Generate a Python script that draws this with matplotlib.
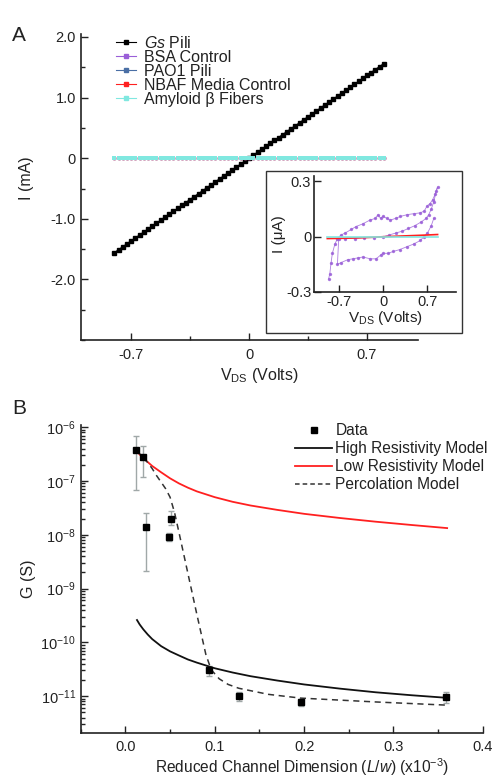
import matplotlib
matplotlib.use('Agg')
import matplotlib.pyplot as plt
from matplotlib.patches import Rectangle
from matplotlib.lines import Line2D
from matplotlib.ticker import MultipleLocator, LogLocator, NullFormatter, FixedLocator

plt.rcParams['font.family'] = ['Liberation Sans', 'DejaVu Sans']
plt.rcParams['mathtext.fontset'] = 'custom'
plt.rcParams['mathtext.rm'] = 'Liberation Sans'
plt.rcParams['mathtext.it'] = 'Liberation Sans:italic'
plt.rcParams['text.color'] = '#222222'
plt.rcParams['axes.labelcolor'] = '#222222'
plt.rcParams['xtick.color'] = '#222222'
plt.rcParams['ytick.color'] = '#222222'

# ---- panel A: I-V sweeps (mA) ----
v_sweep = [-0.800, -0.775, -0.750, -0.725, -0.700, -0.675, -0.650, -0.625, -0.600, -0.575,
           -0.550, -0.525, -0.500, -0.475, -0.450, -0.425, -0.400, -0.375, -0.350, -0.325,
           -0.300, -0.275, -0.250, -0.225, -0.200, -0.175, -0.150, -0.125, -0.100, -0.075,
           -0.050, -0.025, 0.000, 0.025, 0.050, 0.075, 0.100, 0.125, 0.150, 0.175,
           0.200, 0.225, 0.250, 0.275, 0.300, 0.325, 0.350, 0.375, 0.400, 0.425,
           0.450, 0.475, 0.500, 0.525, 0.550, 0.575, 0.600, 0.625, 0.650, 0.675,
           0.700, 0.725, 0.750, 0.775, 0.800]
i_gs = [-1.560, -1.511, -1.463, -1.414, -1.365, -1.316, -1.268, -1.219, -1.170, -1.121,
        -1.073, -1.024, -0.975, -0.926, -0.878, -0.829, -0.780, -0.731, -0.683, -0.634,
        -0.585, -0.536, -0.488, -0.439, -0.390, -0.341, -0.293, -0.244, -0.195, -0.146,
        -0.098, -0.049, 0.000, 0.049, 0.098, 0.146, 0.195, 0.244, 0.293, 0.341,
        0.390, 0.439, 0.488, 0.536, 0.585, 0.634, 0.683, 0.731, 0.780, 0.829,
        0.878, 0.926, 0.975, 1.024, 1.073, 1.121, 1.170, 1.219, 1.268, 1.316,
        1.365, 1.414, 1.463, 1.511, 1.560]
i_zero = [0.0] * len(v_sweep)

# inset (uA): BSA control hysteresis loop
v_bsa = [-0.86, -0.84, -0.82, -0.80, -0.76, -0.72, -0.66, -0.60, -0.50, -0.43, -0.32,
         -0.21, -0.12, -0.08, -0.04, 0.00, 0.06, 0.11, 0.20, 0.27, 0.38, 0.48, 0.59,
         0.65, 0.69, 0.74, 0.78, 0.82, 0.86,
         0.84, 0.80, 0.76, 0.72, 0.68, 0.60, 0.50, 0.40, 0.30, 0.20, 0.10, 0.00,
         -0.15, -0.30, -0.45, -0.60, -0.70,
         -0.72, -0.66, -0.56, -0.48, -0.40, -0.32, -0.20, -0.11, -0.04, 0.00, 0.08,
         0.16, 0.26, 0.37, 0.48, 0.59, 0.64, 0.70, 0.76, 0.80]
i_bsa = [-0.23, -0.20, -0.14, -0.09, -0.04, -0.01, 0.01, 0.02, 0.04, 0.055, 0.07,
         0.09, 0.10, 0.12, 0.10, 0.11, 0.10, 0.09, 0.10, 0.11, 0.12, 0.125, 0.13,
         0.14, 0.165, 0.18, 0.20, 0.23, 0.27,
         0.25, 0.19, 0.15, 0.12, 0.10, 0.08, 0.06, 0.045, 0.03, 0.02, 0.01, 0.00,
         -0.005, -0.005, -0.01, -0.01, -0.01,
         -0.15, -0.14, -0.125, -0.12, -0.115, -0.11, -0.12, -0.12, -0.10, -0.09, -0.09,
         -0.08, -0.07, -0.055, -0.04, -0.02, 0.00, 0.02, 0.06, 0.10]
v_flat = [-0.88, -0.60, -0.30, 0.00, 0.30, 0.60, 0.86]
i_nbaf = [-0.01, -0.008, -0.005, 0.0, 0.004, 0.008, 0.012]
i_amy = [0.0, 0.0, 0.0, 0.0, 0.0, 0.0, 0.0]

# ---- panel B: conductance vs reduced channel dimension ----
lw_data = [0.0115, 0.0197, 0.0227, 0.0485, 0.0507, 0.094, 0.127, 0.196, 0.359]
g_data = [3.7e-7, 2.8e-7, 1.37e-8, 9.0e-9, 2.0e-8, 3.0e-11, 1.0e-11, 7.7e-12, 9.6e-12]
g_low_err = [6.8e-8, 1.2e-7, 2.15e-9, 7.5e-9, 1.5e-8, 2.4e-11, 8.2e-12, 6.6e-12, 7.5e-12]
g_high_err = [7.0e-7, 4.4e-7, 2.5e-8, 1.1e-8, 2.8e-8, 3.6e-11, 1.2e-11, 8.9e-12, 1.2e-11]

lw_high = [0.013, 0.016, 0.02, 0.025, 0.03, 0.04, 0.05, 0.06, 0.07, 0.08, 0.10,
           0.12, 0.14, 0.17, 0.20, 0.24, 0.28, 0.32, 0.36]
g_high_res = [2.6e-10, 2.15e-10, 1.75e-10, 1.4e-10, 1.15e-10, 8.5e-11, 6.8e-11, 5.7e-11,
              4.8e-11, 4.2e-11, 3.3e-11, 2.75e-11, 2.35e-11, 1.95e-11, 1.65e-11,
              1.38e-11, 1.18e-11, 1.04e-11, 9.3e-12]
lw_low = [0.012, 0.016, 0.02, 0.025, 0.03, 0.04, 0.05, 0.06, 0.07, 0.08, 0.10,
          0.12, 0.14, 0.17, 0.20, 0.24, 0.28, 0.32, 0.36]
g_low_res = [3.7e-7, 3.1e-7, 2.65e-7, 2.25e-7, 1.9e-7, 1.45e-7, 1.12e-7, 9.0e-8,
             7.5e-8, 6.4e-8, 5.0e-8, 4.1e-8, 3.5e-8, 2.9e-8, 2.45e-8, 2.05e-8,
             1.75e-8, 1.52e-8, 1.33e-8]
lw_perc = [0.012, 0.016, 0.02, 0.025, 0.03, 0.035, 0.04, 0.045, 0.05, 0.055, 0.06,
           0.07, 0.08, 0.09, 0.096, 0.105, 0.115, 0.127, 0.16, 0.196, 0.28, 0.36]
g_perc = [3.7e-7, 3.2e-7, 2.7e-7, 2.2e-7, 1.7e-7, 1.25e-7, 9.5e-8, 7.2e-8, 5.0e-8,
          2.6e-8, 1.1e-8, 1.9e-9, 3.3e-10, 6.0e-11, 3.1e-11, 2.1e-11, 1.65e-11,
          1.4e-11, 1.08e-11, 9.2e-12, 7.8e-12, 6.8e-12]
g_decades = [1e-11, 1e-10, 1e-9, 1e-8, 1e-7, 1e-6]

c_bsa = '#9a5fd8'
c_pao = '#4a6fa5'
c_nbaf = '#ff2020'
c_amy = '#80e8e0'

fig = plt.figure(figsize=(4.95, 7.79), dpi=100)


def style_axes(ax, fs):
    for s in ['top', 'right']:
        ax.spines[s].set_visible(False)
    for s in ['left', 'bottom']:
        ax.spines[s].set_linewidth(1.2)
        ax.spines[s].set_color('#222222')
    ax.tick_params(which='both', direction='in', labelsize=fs, width=1.0)
    ax.tick_params(which='major', length=5)
    ax.tick_params(which='minor', length=3)


# panel A
axA = fig.add_axes([0.163, 0.5635, 0.6805, 0.3929])
axA.plot(v_sweep, i_gs, '-s', color='black', ms=3.2, lw=1)
# the three controls sit at ~0 mA, hidden below the amyloid markers
axA.plot(v_sweep, i_zero, 's', color=c_bsa, ms=2.0)
axA.plot(v_sweep, i_zero, 's', color=c_pao, ms=2.0)
axA.plot(v_sweep, i_zero, 's', color=c_nbaf, ms=2.0)
axA.plot(v_sweep, i_zero, 's', color=c_amy, ms=2.7, mew=0)
axA.set_xlim(-1.0, 1.0)
axA.set_ylim(-3.0, 2.05)
axA.set_xticks([-0.7, 0, 0.7])
axA.set_xticklabels(['-0.7', '0', '0.7'])
axA.xaxis.set_minor_locator(MultipleLocator(0.35))
axA.set_yticks([-2.0, -1.0, 0, 1.0, 2.0])
axA.set_yticklabels(['-2.0', '-1.0', '0', '1.0', '2.0'])
axA.yaxis.set_minor_locator(MultipleLocator(0.5))
style_axes(axA, 10.5)
axA.tick_params(axis='x', which='both', pad=6)
axA.set_xlabel(r'V$_{\mathrm{DS}}$ (Volts)', fontsize=11.5, labelpad=2)
axA.xaxis.set_label_coords(0.53, -0.085)
axA.set_ylabel('I (mA)', fontsize=11.5, labelpad=2)
axA.yaxis.set_label_coords(-0.14, 0.53)
handles_a = [Line2D([], [], marker='s', color=c, ms=3.2, lw=0.8)
             for c in ['black', c_bsa, c_pao, c_nbaf, c_amy]]
axA.legend(handles_a, [r'$\it{Gs}$ Pili', 'BSA Control', 'PAO1 Pili', 'NBAF Media Control',
                       'Amyloid β Fibers'],
           loc='upper left', bbox_to_anchor=(0.085, 1.018), frameon=False, fontsize=11.5,
           handlelength=1.3, handletextpad=0.45, labelspacing=-0.06, borderaxespad=0)
fig.text(0.025, 0.955, 'A', fontsize=15, va='center')

# inset frame and inset axes
fig.add_artist(Rectangle((0.537, 0.5725), 0.396, 0.208, transform=fig.transFigure,
                         facecolor='white', edgecolor='#333333', lw=1.0, zorder=1))
axI = fig.add_axes([0.6343, 0.6252, 0.2869, 0.1489], zorder=2)
axI.patch.set_alpha(0)
axI.plot(v_bsa, i_bsa, '-o', color=c_bsa, ms=1.4, lw=0.6, alpha=0.8)
axI.plot(v_flat, i_nbaf, '-', color=c_nbaf, lw=1.2)
axI.plot(v_flat, i_amy, '-', color=c_amy, lw=1.2)
axI.set_xlim(-1.09, 1.15)
axI.set_ylim(-0.3, 0.33)
axI.set_xticks([-0.7, 0, 0.7])
axI.set_xticklabels(['-0.7', '0', '0.7'])
axI.set_yticks([-0.3, 0, 0.3])
axI.set_yticklabels(['-0.3', '0', '0.3'])
style_axes(axI, 10.5)
axI.tick_params(which='both', pad=2)
axI.set_xlabel(r'V$_{\mathrm{DS}}$ (Volts)', fontsize=11, labelpad=0)
axI.set_ylabel('I (μA)', fontsize=11, labelpad=0)

# panel B
axB = fig.add_axes([0.163, 0.0594, 0.8125, 0.395])
axB.errorbar(lw_data, g_data,
             yerr=[[g - lo for g, lo in zip(g_data, g_low_err)],
                   [hi - g for g, hi in zip(g_data, g_high_err)]],
             fmt='none', ecolor='#a0a8a8', elinewidth=1, capsize=2.5, zorder=2)
axB.plot(lw_high, g_high_res, '-', color='#111111', lw=1.3, zorder=3)
axB.plot(lw_low, g_low_res, '-', color='#ff2020', lw=1.3, zorder=3)
axB.plot(lw_perc, g_perc, '--', color='#333333', lw=1.1, dashes=(4, 3), zorder=3)
axB.plot(lw_data, g_data, 's', color='black', ms=5, zorder=4)
axB.set_yscale('log')
axB.set_xlim(-0.05, 0.4)
axB.set_ylim(10 ** -11.68, 10 ** -5.96)
axB.set_xticks([0.0, 0.1, 0.2, 0.3, 0.4])
axB.set_xticklabels(['0.0', '0.1', '0.2', '0.3', '0.4'])
axB.xaxis.set_minor_locator(MultipleLocator(0.05))
axB.yaxis.set_major_locator(FixedLocator(g_decades))
axB.yaxis.set_minor_locator(LogLocator(base=10, subs=range(2, 10), numticks=12))
axB.yaxis.set_minor_formatter(NullFormatter())
style_axes(axB, 10.5)
axB.tick_params(axis='x', which='both', pad=5)
axB.set_xlabel(r'Reduced Channel Dimension ($\it{L/w}$) (x10$^{-3}$)', fontsize=11.2)
axB.xaxis.set_label_coords(0.55, -0.075)
axB.set_ylabel('G (S)', fontsize=11.5, labelpad=3)
handles = [Line2D([], [], ls='none', marker='s', color='black', ms=5),
           Line2D([], [], color='#111111', lw=1.3),
           Line2D([], [], color='#ff2020', lw=1.3),
           Line2D([], [], color='#333333', lw=1.1, ls='--', dashes=(3, 2))]
fig.legend(handles, ['Data', 'High Resistivity Model', 'Low Resistivity Model', 'Percolation Model'],
           loc='upper right', bbox_to_anchor=(0.998, 0.465), frameon=False, fontsize=11.2,
           handlelength=2.4, handletextpad=0.2, labelspacing=0.2, borderaxespad=0)
fig.text(0.025, 0.475, 'B', fontsize=15, va='center')

fig.savefig('out.png', dpi=100)
